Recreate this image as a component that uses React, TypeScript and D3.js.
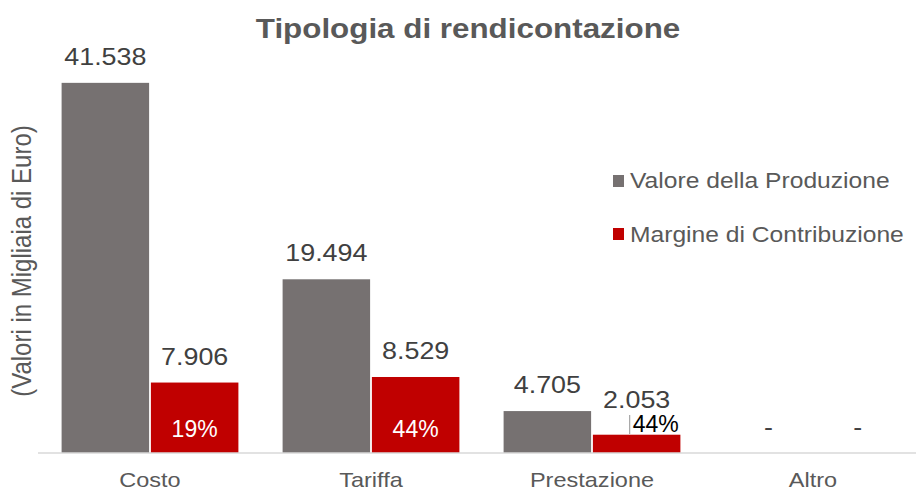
import * as d3 from "d3";

const W = 916;
const H = 491;
const FONT = "'Liberation Sans', Arial, sans-serif";
const SX = 1.12;

const categories = ["Costo", "Tariffa", "Prestazione", "Altro"];
const seriesNames = ["Valore della Produzione", "Margine di Contribuzione"];
const valoreProduzione = [41538, 19494, 4705, 0];
const margineContribuzione = [7906, 8529, 2053, 0];
const valoreLabels = ["41.538", "19.494", "4.705", "-"];
const margineLabels = ["7.906", "8.529", "2.053", "-"];
const percentLabels = ["19%", "44%", "44%", ""];
const colors = ["#767171", "#c00000"];

const x0 = d3.scaleBand().domain(categories).range([39.5, 923.5]).paddingInner(0.2).paddingOuter(0.1);
const x1 = d3.scaleBand().domain(seriesNames).range([0, x0.bandwidth()]).paddingInner(0.02);
const y = d3.scaleLinear().domain([0, 45000]).range([453, 52]);

const seriesValues = [valoreProduzione, margineContribuzione];
const seriesLabels = [valoreLabels, margineLabels];

// la percentuale sta fuori dalla barra quando questa è troppo bassa
const isOutside = (i: number) => !!percentLabels[i] && y(0) - y(margineContribuzione[i]) <= 40;

const T = ({ x, y, children, size, fill = "#595959", weight = "normal", anchor = "middle" }: any) => (
  <text
    transform={`translate(${x},${y}) scale(${SX},1)`}
    fontSize={size}
    fill={fill}
    fontWeight={weight}
    textAnchor={anchor}
    fontFamily={FONT}
  >
    {children}
  </text>
);

export default function App() {
  return (
    <svg width={W} height={H} style={{ position: "absolute", left: 0, top: 0, background: "#fff" }}>
      <T x={468} y={38} size={28} weight="bold">
        Tipologia di rendicontazione
      </T>
      <text
        transform={`translate(31,261) scale(${SX},1) rotate(-90)`}
        fontSize={24}
        fill="#595959"
        textAnchor="middle"
        fontFamily={FONT}
      >
        (Valori in Migliaia di Euro)
      </text>

      {categories.map((c, i) => (
        <g key={c}>
          {seriesNames.map((s, j) => {
            const v = seriesValues[j][i];
            const bx = (x0(c) ?? 0) + (x1(s) ?? 0);
            const bw = x1.bandwidth();
            const off = j === 1 && isOutside(i) ? 27 : 18;
            return (
              <g key={s}>
                {v > 0 && <rect x={bx} y={y(v)} width={bw} height={y(0) - y(v)} fill={colors[j]} />}
                <T x={bx + bw / 2} y={y(v) - off} size={24} fill="#404040">
                  {seriesLabels[j][i]}
                </T>
              </g>
            );
          })}
        </g>
      ))}

      {/* percentuali sul margine */}
      {categories.map((c, i) => {
        const p = percentLabels[i];
        if (!p) return null;
        const bx = (x0(c) ?? 0) + (x1(seriesNames[1]) ?? 0);
        const bw = x1.bandwidth();
        if (!isOutside(i)) {
          return (
            <text key={c} x={bx + bw / 2} y={y(0) - 16} fontSize={23} fill="#fff" textAnchor="middle" fontFamily={FONT}>
              {p}
            </text>
          );
        }
        const lx = bx + bw / 2;
        return (
          <g key={c}>
            <line x1={lx - 7} x2={lx - 7} y1={415} y2={434} stroke="#a6a6a6" strokeWidth={1.2} />
            <text x={lx - 4} y={432} fontSize={23} fill="#000" fontFamily={FONT}>
              {p}
            </text>
          </g>
        );
      })}

      <line x1={38} x2={916} y1={y(0)} y2={y(0)} stroke="#d9d9d9" strokeWidth={1.5} />

      {categories.map((c) => (
        <T key={c} x={(x0(c) ?? 0) + x0.bandwidth() / 2} y={487} size={21}>
          {c}
        </T>
      ))}

      {seriesNames.map((s, j) => (
        <g key={s}>
          <rect x={613} y={175 + j * 53} width={11} height={12} fill={colors[j]} />
          <T x={630} y={188 + j * 54} size={22} anchor="start">
            {s}
          </T>
        </g>
      ))}
    </svg>
  );
}
